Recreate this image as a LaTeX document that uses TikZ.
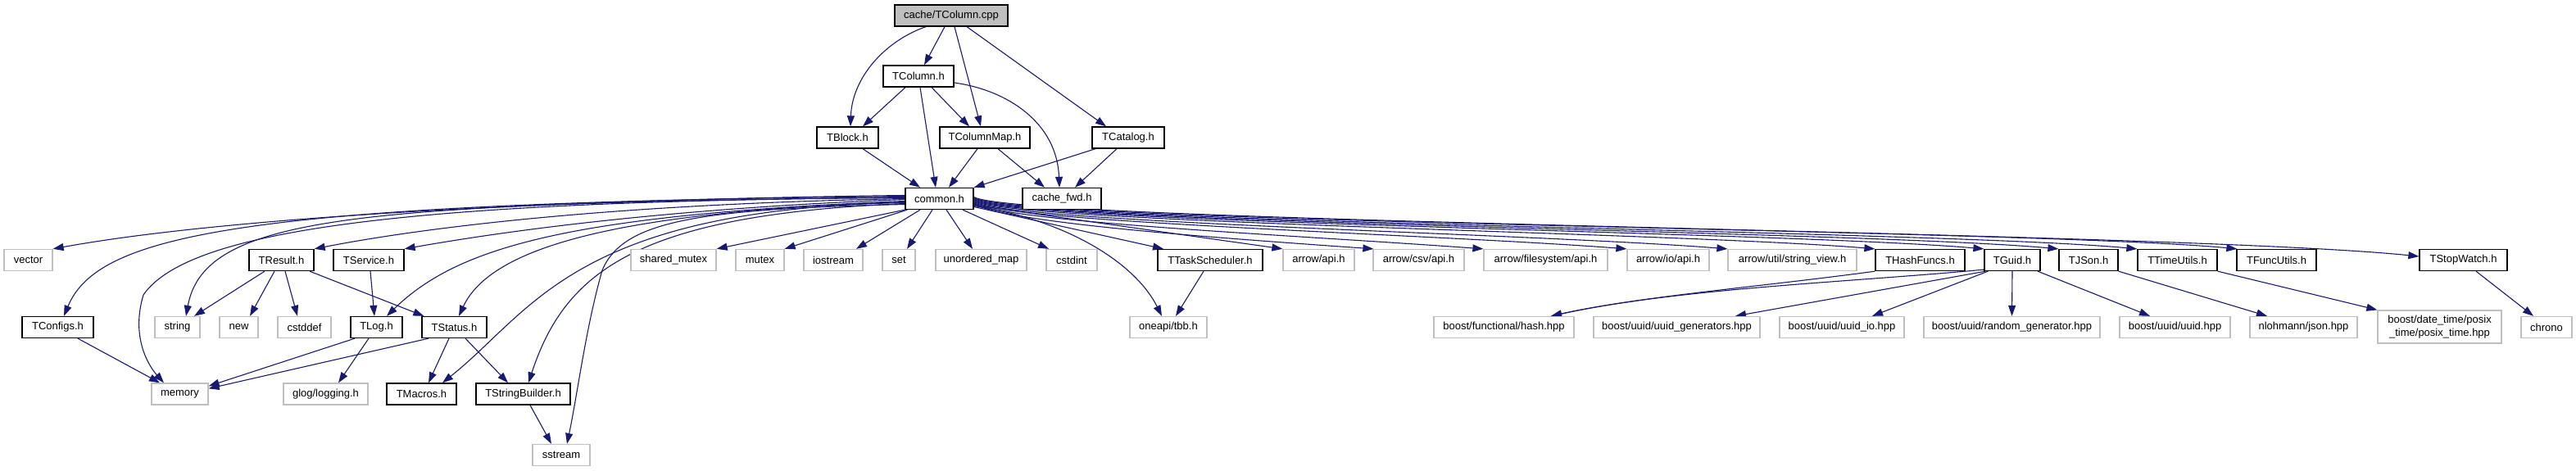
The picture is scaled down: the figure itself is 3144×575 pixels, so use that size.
\documentclass[tikz,border=0pt]{standalone}
\usepackage{fontspec}
\setmainfont{Liberation Sans}
\usepackage{xcolor}
\usepackage{tikz}
\usetikzlibrary{arrows.meta, calc, backgrounds}
\definecolor{incblue}{HTML}{191970}
\definecolor{extgrey}{HTML}{BFBFBF}
\definecolor{rootgrey}{HTML}{BFBFBF}

\begin{document}
\begin{tikzpicture}[x=1pt, y=-1pt,
    filebox/.style={draw=black, line width=1.3pt, fill=white, inner sep=0pt,
      minimum height=26pt, font=\fontsize{13}{16}\selectfont},
    extbox/.style={filebox, draw=extgrey},
    rootbox/.style={filebox, fill=rootgrey},
    incl/.style={draw=incblue, line width=1.1pt, -{Triangle[length=13pt, width=9pt]}}]
    \useasboundingbox (0,0) rectangle (3144,575);

    % the file and its own headers
    \node[rootbox, minimum width=138pt] (root) at (1161,19) {cache/TColumn.cpp};
    \node[filebox, minimum width=86pt] (tcolumn) at (1121,93) {TColumn.h};
    \node[filebox, minimum width=75pt] (tblock) at (1034.5,168) {TBlock.h};
    \node[filebox, minimum width=110pt] (tcolmap) at (1202,168) {TColumnMap.h};
    \node[filebox, minimum width=88pt] (tcatalog) at (1377,168) {TCatalog.h};
    \node[filebox, minimum width=83pt] (common) at (1146.5,242.5) {common.h};
    \node[filebox, minimum width=96pt] (cachefwd) at (1296,242.5) {cache\_fwd.h};

    % everything common.h pulls in
    \node[extbox, minimum width=59pt] (vector) at (34.5,317.5) {vector};
    \node[filebox, minimum width=79pt] (tresult) at (343.5,317.5) {TResult.h};
    \node[filebox, minimum width=86pt] (tservice) at (450,317.5) {TService.h};
    \node[extbox, minimum width=104pt] (sharedmutex) at (822,317.5) {shared\_mutex};
    \node[extbox, minimum width=59pt] (mutex) at (927.5,317.5) {mutex};
    \node[extbox, minimum width=72pt] (iostream) at (1017,317.5) {iostream};
    \node[extbox, minimum width=40pt] (set) at (1097,317.5) {set};
    \node[extbox, minimum width=111pt] (unorderedmap) at (1197.5,317.5) {unordered\_map};
    \node[extbox, minimum width=62pt] (cstdint) at (1308,317.5) {cstdint};
    \node[filebox, minimum width=128pt] (ttask) at (1477,317.5) {TTaskScheduler.h};
    \node[extbox, minimum width=87pt] (arrowapi) at (1609.5,317.5) {arrow/api.h};
    \node[extbox, minimum width=111pt] (arrowcsv) at (1731.5,317.5) {arrow/csv/api.h};
    \node[extbox, minimum width=151pt] (arrowfs) at (1886.5,317.5) {arrow/filesystem/api.h};
    \node[extbox, minimum width=100pt] (arrowio) at (2036,317.5) {arrow/io/api.h};
    \node[extbox, minimum width=157pt] (arrowutil) at (2187.5,317.5) {arrow/util/string\_view.h};
    \node[filebox, minimum width=109pt] (thash) at (2343.5,317.5) {THashFuncs.h};
    \node[filebox, minimum width=68pt] (tguid) at (2456,317.5) {TGuid.h};
    \node[filebox, minimum width=72pt] (tjson) at (2549,317.5) {TJSon.h};
    \node[filebox, minimum width=97pt] (ttime) at (2657.5,317.5) {TTimeUtils.h};
    \node[filebox, minimum width=97pt] (tfunc) at (2778.5,317.5) {TFuncUtils.h};
    \node[filebox, minimum width=107pt] (tstop) at (3006.5,317.5) {TStopWatch.h};

    % next level down
    \node[filebox, minimum width=87pt] (tconfigs) at (70.5,399.5) {TConfigs.h};
    \node[extbox, minimum width=55pt] (string) at (216.5,399.5) {string};
    \node[extbox, minimum width=47pt] (new) at (291.5,399.5) {new};
    \node[extbox, minimum width=65pt] (cstddef) at (371.5,399.5) {cstddef};
    \node[filebox, minimum width=63pt] (tlog) at (459.5,399.5) {TLog.h};
    \node[filebox, minimum width=79pt] (tstatus) at (554.5,399.5) {TStatus.h};
    \node[extbox, minimum width=94pt] (tbb) at (1426,399.5) {oneapi/tbb.h};
    \node[extbox, minimum width=171pt] (hash) at (1835.5,399.5) {boost/functional/hash.hpp};
    \node[extbox, minimum width=203pt] (uuidgen) at (2046.5,399.5) {boost/uuid/uuid\_generators.hpp};
    \node[extbox, minimum width=152pt] (uuidio) at (2248,399.5) {boost/uuid/uuid\_io.hpp};
    \node[extbox, minimum width=215pt] (randgen) at (2455.5,399.5) {boost/uuid/random\_generator.hpp};
    \node[extbox, minimum width=135pt] (uuid) at (2654.5,399.5) {boost/uuid/uuid.hpp};
    \node[extbox, minimum width=131pt] (json) at (2811.5,399.5) {nlohmann/json.hpp};
    \node[extbox, minimum width=151pt, minimum height=40pt, align=center] (posix) at (2977.5,399) {boost/date\_time/posix\\\_time/posix\_time.hpp};
    \node[extbox, minimum width=62pt] (chrono) at (3108,399.5) {chrono};

    \node[extbox, minimum width=69pt] (memory) at (219.5,481) {memory};
    \node[extbox, minimum width=103pt] (glog) at (397.5,481) {glog/logging.h};
    \node[filebox, minimum width=85pt] (tmacros) at (514.5,481) {TMacros.h};
    \node[filebox, minimum width=115pt] (tsb) at (638.5,481) {TStringBuilder.h};
    \node[extbox, minimum width=70pt] (sstream) at (685,555.5) {sstream};

    \begin{scope}[on background layer]
    \fill[white] (0,0) rectangle (3144,575);

    % includes of the top files
    \draw[incl] ([xshift=-31pt]root.south) .. controls (1080,50) and (1040,95) .. ([xshift=3.5pt]tblock.north);
    \draw[incl] ([xshift=-8pt]root.south) -- ([xshift=7pt]tcolumn.north);
    \draw[incl] ([xshift=4pt]root.south) -- ([xshift=-5pt]tcolmap.north);
    \draw[incl] ([xshift=19pt]root.south) -- ([xshift=-27pt]tcatalog.north);
    \draw[incl] ([xshift=-16pt]tcolumn.south) -- ([xshift=18.5pt]tblock.north);
    \draw[incl] ([xshift=16pt]tcolumn.south) -- ([xshift=-19pt]tcolmap.north);
    \draw[incl] ([xshift=2pt]tcolumn.south) -- ([xshift=-4.5pt]common.north);
    \draw[incl] ([yshift=-8pt]tcolumn.east) .. controls (1230,110) and (1290,150) .. ([xshift=-3pt]cachefwd.north);
    \draw[incl] ([xshift=18.5pt]tblock.south) -- ([xshift=-23.5pt]common.north);
    \draw[incl] ([xshift=-9pt]tcolmap.south) -- ([xshift=11.5pt]common.north);
    \draw[incl] ([xshift=16pt]tcolmap.south) -- ([xshift=-21pt]cachefwd.north);
    \draw[incl] ([xshift=-40pt]tcatalog.south) -- (common.north east);
    \draw[incl] ([xshift=-14pt]tcatalog.south) -- ([xshift=16pt]cachefwd.north);

    % common.h, left side
    \draw[incl] ([yshift=4pt]common.west) .. controls (600,245) and (250,270) .. (vector.north east);
    \draw[incl] ([yshift=3pt]common.west) .. controls (300,248) and (120,285) .. ([xshift=7.5pt]tconfigs.north);
    \draw[incl] ([yshift=2pt]common.west) .. controls (450,250) and (250,260) .. ([xshift=10.5pt]string.north);
    \draw[incl] ([yshift=1pt]common.west) .. controls (500,245) and (230,280) .. (175,360)
      .. controls (160,410) and (180,445) .. ([xshift=-19.5pt]memory.north);
    \draw[incl] (common.west) .. controls (700,250) and (480,285) .. (tresult.north east);
    \draw[incl] ([yshift=-1pt]common.west) .. controls (800,255) and (600,285) .. (tservice.north east);
    \draw[incl] ([yshift=-3pt]common.west) .. controls (700,262) and (560,300) .. ([xshift=12.5pt]tlog.north);
    \draw[incl] ([yshift=-4pt]common.west) .. controls (760,258) and (600,300) .. ([xshift=5.5pt]tstatus.north);
    \draw[incl] ([yshift=-5pt]common.west) .. controls (700,255) and (650,380) .. ([xshift=25.5pt]tmacros.north);
    \draw[incl] ([yshift=-6pt]common.west) .. controls (780,262) and (690,330) .. ([xshift=6.5pt]tsb.north);
    \draw[incl] ([yshift=-7pt]common.west) .. controls (850,255) and (760,270) .. (735,330)
      .. controls (715,400) and (705,480) .. ([xshift=7pt]sstream.north);
    \draw[incl] (common.south west) -- (sharedmutex.north east);
    \draw[incl] ([xshift=3pt]common.south west) -- (mutex.north east);
    \draw[incl] ([xshift=-23.5pt]common.south) -- ([xshift=28pt]iostream.north);
    \draw[incl] ([xshift=-8.5pt]common.south) -- ([xshift=10pt]set.north);
    \draw[incl] ([xshift=8.5pt]common.south) -- ([xshift=-10.5pt]unorderedmap.north);
    \draw[incl] ([xshift=28.5pt]common.south) -- ([xshift=-28pt]cstdint.north);

    % common.h, right side
    \draw[incl] ([yshift=-10pt]common.east) -- ([xshift=-57pt]ttask.north);
    \draw[incl] ([yshift=-9pt]common.east) .. controls (1300,268) and (1385,320) .. ([xshift=-8pt]tbb.north);
    \draw[incl] ([yshift=-8pt]common.east) -- (arrowapi.north west);
    \draw[incl] ([yshift=-7pt]common.east) .. controls (1240,272) and (1450,288) .. ([xshift=1pt]arrowcsv.north west);
    \draw[incl] ([yshift=-6pt]common.east) .. controls (1240,272) and (1580,287) .. (arrowfs.north west);
    \draw[incl] ([yshift=-5pt]common.east) .. controls (1240,272) and (1750,286) .. (arrowio.north west);
    \draw[incl] ([yshift=-4pt]common.east) .. controls (1240,272) and (1870,285) .. (arrowutil.north west);
    \draw[incl] ([yshift=-3pt]common.east) .. controls (1240,272) and (2050,284) .. (thash.north west);
    \draw[incl] ([yshift=-2pt]common.east) .. controls (1240,272) and (2180,283) .. (tguid.north west);
    \draw[incl] ([yshift=-1pt]common.east) .. controls (1240,272) and (2270,282) .. (tjson.north west);
    \draw[incl] (common.east) .. controls (1240,272) and (2360,281) .. (ttime.north west);
    \draw[incl] ([yshift=1pt]common.east) .. controls (1240,272) and (2480,280) .. ([xshift=1pt]tfunc.north west);
    \draw[incl] ([yshift=2pt]common.east) .. controls (1240,272) and (2650,282) .. ([yshift=4.5pt]tstop.west);

    % lower headers
    \draw[incl] ([xshift=-20.5pt]tresult.south) -- ([xshift=20.5pt]string.north);
    \draw[incl] ([xshift=-8.5pt]tresult.south) -- ([xshift=13.5pt]new.north);
    \draw[incl] ([xshift=4.5pt]tresult.south) -- ([xshift=-8.5pt]cstddef.north);
    \draw[incl] ([xshift=34.5pt]tresult.south) -- ([xshift=3pt]tstatus.north west);
    \draw[incl] ([xshift=2pt]tservice.south) -- ([xshift=-2.5pt]tlog.north);
    \draw[incl] ([xshift=24.5pt]tconfigs.south) -- ([xshift=-24.5pt]memory.north);
    \draw[incl] ([xshift=-26.5pt]tlog.south) -- ([yshift=-4pt]memory.north east);
    \draw[incl] ([xshift=-9.5pt]tlog.south) -- ([xshift=15.5pt]glog.north);
    \draw[incl] ([xshift=-31.5pt]tstatus.south) -- ([yshift=-7pt]memory.north east);
    \draw[incl] ([xshift=-6.5pt]tstatus.south) -- ([xshift=8.5pt]tmacros.north);
    \draw[incl] ([xshift=13.5pt]tstatus.south) -- ([xshift=-18.5pt]tsb.north);
    \draw[incl] ([xshift=8.5pt]tsb.south) -- ([xshift=-12pt]sstream.north);
    \draw[incl] ([xshift=-8pt]ttask.south) -- ([xshift=9pt]tbb.north);
    \draw[incl] (thash.south west) .. controls (2150,350) and (2000,362) .. ([xshift=57.5pt]hash.north);
    \draw[incl] ([yshift=2pt]tguid.south west) .. controls (2250,345) and (2050,352) .. ([xshift=57.5pt]hash.north);
    \draw[incl] ([xshift=2pt]tguid.south west) -- ([xshift=71.5pt]uuidgen.north);
    \draw[incl] ([xshift=5pt]tguid.south west) -- ([xshift=37pt]uuidio.north);
    \draw[incl] (tguid.south) -- (randgen.north);
    \draw[incl] ([xshift=31pt]tguid.south) -- ([xshift=-30.5pt]uuid.north);
    \draw[incl] (tjson.south east) -- ([xshift=-44.5pt]json.north);
    \draw[incl] (ttime.south east) -- (posix.north west);
    \draw[incl] ([xshift=15.5pt]tstop.south) -- ([xshift=-16pt]chrono.north);
    \end{scope}
\end{tikzpicture}
\end{document}
